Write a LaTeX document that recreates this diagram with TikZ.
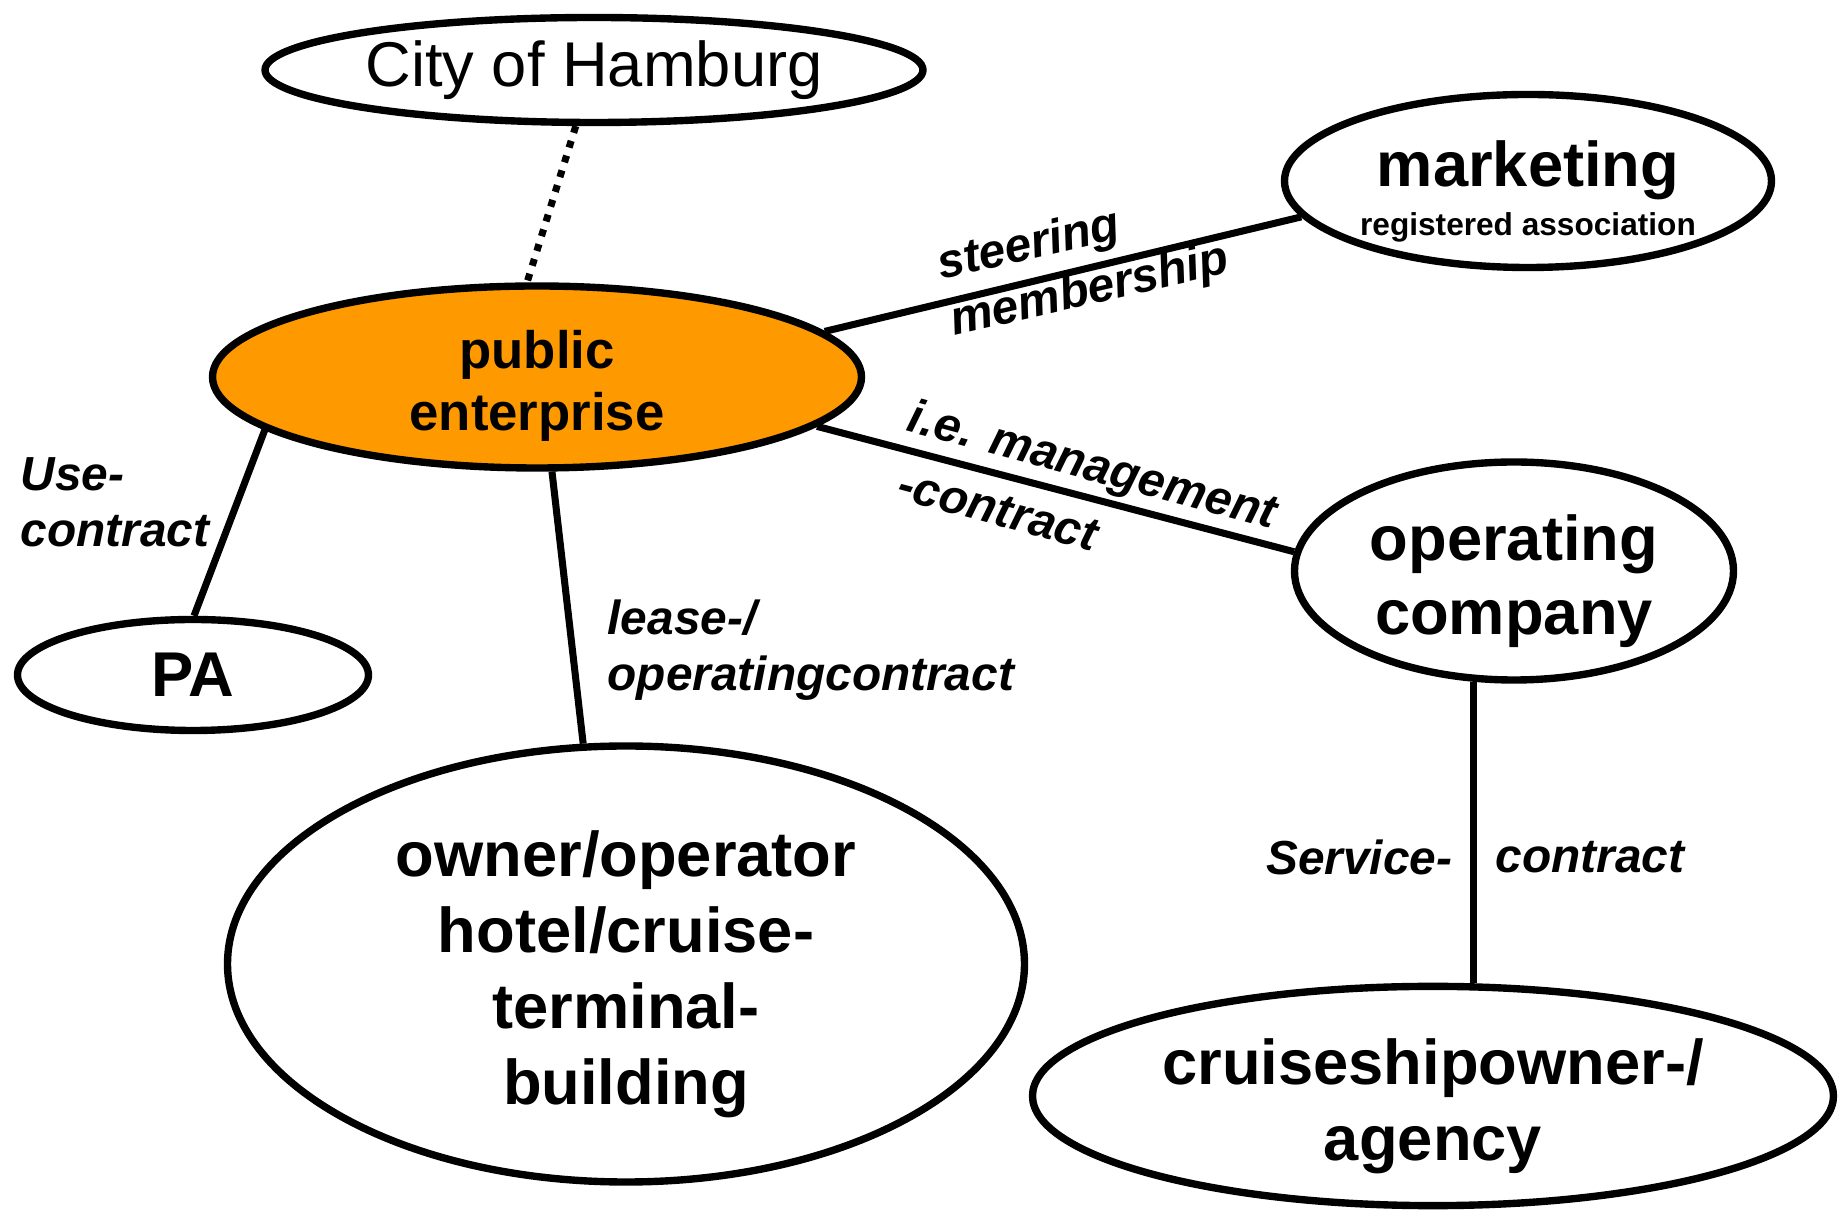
\documentclass[tikz,border=0pt]{standalone}
\usepackage{fontspec}
\setmainfont{Liberation Sans}
\usetikzlibrary{shapes.geometric}
\definecolor{peorange}{HTML}{FF9900}
\newcommand{\toppad}{\rule{0pt}{1.05em}}

\begin{document}
\begin{tikzpicture}[
    party/.style={ellipse, draw, line width=2.1pt, inner sep=0pt, align=center,
                  font=\fontsize{18}{21.6}\selectfont\bfseries},
    link/.style={line width=2pt},
    lbl/.style={inner sep=0pt, font=\fontsize{13.6}{16}\selectfont\bfseries\itshape}]
    \useasboundingbox (0,0) rectangle (18.41,12.12);
    % parties
    \node[party, font=\fontsize{18}{21.6}\selectfont, minimum width=6.58cm, minimum height=1.05cm] (city) at (5.94,11.42) {City of Hamburg};
    \node[party, font=\fontsize{9}{14}\selectfont\bfseries, minimum width=4.87cm, minimum height=1.70cm] (mkt) at (15.28,10.31)
        {{\fontsize{18}{21.6}\selectfont\toppad marketing}\\registered association};
    \node[party, fill=peorange, font=\fontsize{15}{17.6}\selectfont\bfseries, minimum width=6.49cm, minimum height=1.82cm] (pub) at (5.37,8.35) {\toppad public\\enterprise};
    \node[party, minimum width=3.51cm, minimum height=1.11cm] (pa) at (1.93,5.37) {PA};
    \node[party, font=\fontsize{18}{21}\selectfont\bfseries, minimum width=4.39cm, minimum height=2.18cm] (op) at (15.14,6.41) {\toppad operating\\company};
    \node[party, minimum width=7.97cm, minimum height=4.36cm] (own) at (6.26,2.48) {\toppad owner/operator\\hotel/cruise-\\terminal-\\building};
    \node[party, font=\fontsize{18}{21.4}\selectfont\bfseries, minimum width=8.01cm, minimum height=2.17cm] (cr) at (14.33,1.16) {\toppad cruiseshipowner-/\\agency};
    % links
    \draw[link, dash pattern=on 2pt off 2.4pt] (city.-108) -- (pub.96.6);
    \draw[link] (pub.9.5) -- (mkt.189.2);
    \draw[link] (pub.-10.6) -- (op.175.6);
    \draw[link] (pub.191.2) -- (pa.89);
    \draw[link] (pub.-81.3) -- (own.101.7);
    \draw[link] (op.-110.4) -- (op.-110.4 |- cr.north);
    % contract labels
    \node[lbl, rotate=13] (steer) at (10.29,9.65) {steering};
    \node[lbl, rotate=13] (memb) at (10.90,9.20) {membership};
    \node[lbl, rotate=-15] (mgmt) at (10.92,7.44) {i.e. management};
    \node[lbl, rotate=-15] (mgmtc) at (9.98,7.02) {-contract};
    \node[lbl, align=left, anchor=west] (use) at (0.20,7.10) {Use-\\contract};
    \node[lbl, align=left, anchor=west] (lease) at (6.07,5.62) {lease-/\\operatingcontract};
    \node[lbl, anchor=east] (serv) at (14.53,3.55) {Service-};
    \node[lbl, anchor=west] (servc) at (14.95,3.55) {contract};
\end{tikzpicture}
\end{document}
